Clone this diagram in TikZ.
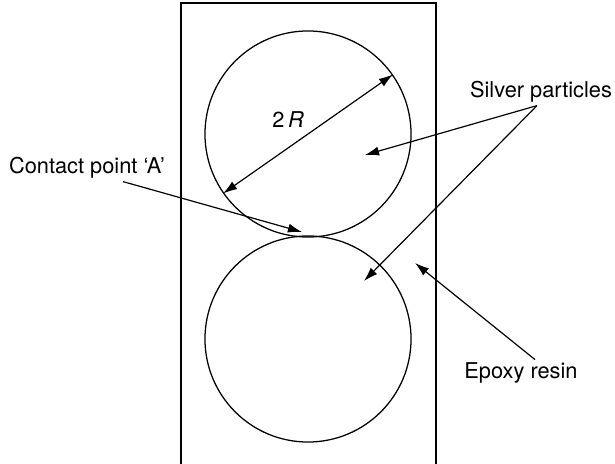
\documentclass[tikz,border=0pt]{standalone}
\usepackage{fontspec}
\setmainfont{TeX Gyre Heros}
\usetikzlibrary{arrows.meta, positioning}

\begin{document}
\begin{tikzpicture}[
    x=0.025cm, y=-0.025cm,
    particle/.style={circle, draw, line width=0.9pt, minimum size=5.15cm, inner sep=0pt},
    lbl/.style={font=\fontsize{15.5}{18}\selectfont, inner sep=2pt},
    arr/.style={-{Latex[length=10pt, width=6.5pt]}, line width=0.85pt},
    darr/.style={{Latex[length=10pt, width=6.5pt]}-{Latex[length=10pt, width=6.5pt]}, line width=0.85pt}
]
\useasboundingbox (0,0) rectangle (615,464);

% Epoxy resin block
\draw[line width=0.85pt] (181,466) -- (181,3) -- (436,3) -- (436,466);

% Silver particles
\node[particle] (upper) at (308,134) {};
\node[particle] (lower) at (308,339) {};

% Diameter
\draw[darr] (upper.215) -- (upper.35);
\node[lbl] (diam) at (288,120) {2\,\textit{R}};

% Labels
\node[lbl] (silver) at (541,92) {Silver particles};
\node[lbl] (contact) at (87,168) {Contact point ‘A’};
\node[lbl] (epoxy) at (521,373) {Epoxy resin};

% Arrow ends
\coordinate (inupper) at (365,155);
\coordinate (inlower) at (364,281);
\coordinate (touch) at (302,232);
\coordinate (resin) at (415,263);

% Pointers
\draw[arr] ([xshift=-0.1cm]silver.south) -- (inupper);
\draw[arr] ([xshift=-0.1cm]silver.south) -- (inlower);
\draw[arr] ([xshift=0.9cm]contact.south) -- (touch);
\draw[arr] ([xshift=0.35cm]epoxy.north) -- (resin);

\end{tikzpicture}
\end{document}
